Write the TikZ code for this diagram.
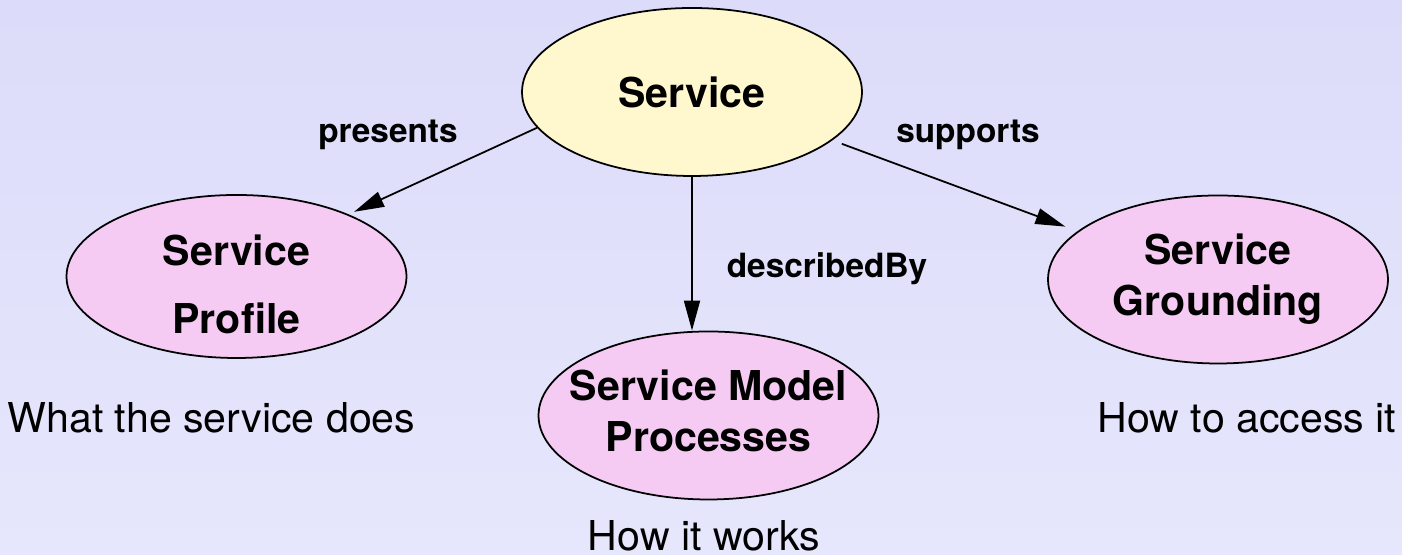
\documentclass[tikz,border=0pt]{standalone}
\usepackage{fontspec}
\setmainfont{TeX Gyre Heros}
\usetikzlibrary{arrows.meta,shapes.geometric}

\definecolor{bgtop}{HTML}{DCDCFA}
\definecolor{bgbottom}{HTML}{E6E6FC}
\definecolor{svcfill}{HTML}{FFF7CE}
\definecolor{subfill}{HTML}{F5CBF3}

\tikzset{
	oval/.style={ellipse, draw, line width=0.5pt, inner sep=-2mm,
		minimum width=3.4cm, minimum height=1.68cm, align=center,
		font=\fontsize{11.7}{14.5}\selectfont\bfseries},
	link/.style={line width=0.5pt, -{Triangle[length=3mm,width=1.6mm]}},
	linklabel/.style={font=\fontsize{9.5}{11}\selectfont\bfseries, anchor=base, inner sep=0},
	note/.style={font=\fontsize{11.7}{14}\selectfont, anchor=base, inner sep=0}
}

\begin{document}
\begin{tikzpicture}

	\shade[top color=bgtop, bottom color=bgbottom] (0,0) rectangle (14.02,5.55);
	\useasboundingbox (0,0) rectangle (14.02,5.55);
	
	% service and its three parts
	\node[oval, fill=svcfill] (svc) at (6.92,4.63) {Service};
	\node[oval, fill=subfill, minimum height=1.63cm] (prof) at (2.365,2.785) {\rule{0pt}{13pt}Service\\[4.8pt]Profile};
	\node[oval, fill=subfill] (model) at (7.085,1.395) {Service Model\\Processes\rule[-3pt]{0pt}{3pt}};
	\node[oval, fill=subfill] (grd) at (12.18,2.755) {Service\\Grounding};
	
	\draw[link, shorten >=0.6mm] (svc.193) -- (prof.29);
	\draw[link] (svc.south) -- (svc.south |- model.north);
	\draw[link, shorten <=1mm, shorten >=1.3mm] (svc.341) -- (grd.161);
	
	\node[linklabel] (presents) at (3.88,4.12) {presents};
	\node[linklabel] (supports) at (9.68,4.12) {supports};
	\node[linklabel] (described) at (8.27,2.77) {describedBy};
	
	\node[note] (profnote) at (2.115,1.22) {What the service does};
	\node[note] (grdnote) at (12.47,1.22) {How to access it};
	\node[note] (modelnote) at (7.04,0.04) {How it works};
	
\end{tikzpicture}
\end{document}
